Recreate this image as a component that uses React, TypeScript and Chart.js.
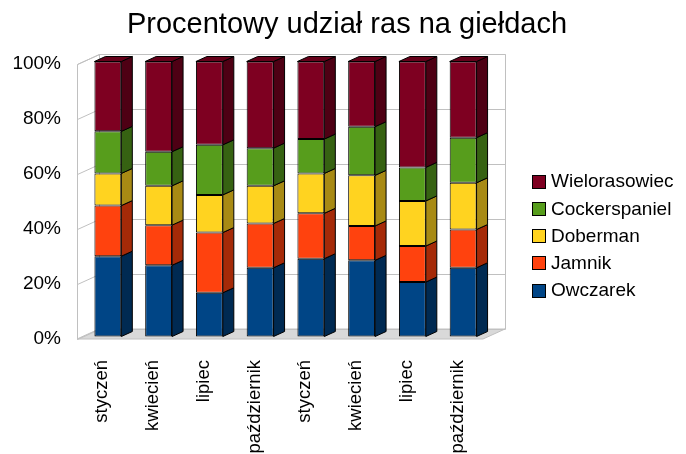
import React, { useEffect, useRef } from "react";
import { Chart, registerables } from "chart.js";

Chart.register(...registerables);

const TITLE = "Procentowy udział ras na giełdach";
const categories = ["styczeń", "kwiecień", "lipiec", "październik", "styczeń", "kwiecień", "lipiec", "październik"];
const seriesNames = ["Owczarek", "Jamnik", "Doberman", "Cockerspaniel", "Wielorasowiec"];
const owczarek = [29.2, 25.9, 15.9, 25.0, 28.3, 27.7, 19.8, 25.0];
const jamnik = [18.4, 14.6, 21.9, 16.1, 16.5, 12.5, 13.1, 13.9];
const doberman = [11.7, 14.3, 13.7, 13.7, 14.5, 18.4, 16.4, 17.0];
const cockerspaniel = [15.3, 12.4, 18.2, 13.7, 12.5, 17.7, 12.2, 16.4];
const wielorasowiec = [25.4, 32.8, 30.3, 31.5, 28.2, 23.7, 38.5, 27.7];
const yTicks = [0, 20, 40, 60, 80, 100];

const colors = ["#004586", "#ff420e", "#ffd320", "#579d1c", "#7e0021"];
const sideColors = ["#002a52", "#a52a08", "#a88a14", "#366212", "#4e0014"];
const topColors = ["#003566", "#c7330b", "#d4b01a", "#467f16", "#650019"];

const FONT = "'Liberation Sans', Arial, sans-serif";
const DX = 22, DY = -10; // wall depth
const BDX = 11, BDY = -5; // bar depth
const SX = 5.5, SY = -2.5; // bar front offset

const threeD = {
  id: "threeD",
  beforeDatasetsDraw(chart: any) {
    const ctx = chart.ctx;
    const a = chart.chartArea;
    const y = chart.scales.y;
    ctx.save();
    ctx.fillStyle = "#ffffff";
    ctx.strokeStyle = "#c0c0c0";
    ctx.lineWidth = 1;
    ctx.fillRect(a.left + DX, a.top + DY, a.right - a.left, a.bottom - a.top);
    // floor
    ctx.beginPath();
    ctx.moveTo(a.left, a.bottom);
    ctx.lineTo(a.right, a.bottom);
    ctx.lineTo(a.right + DX, a.bottom + DY);
    ctx.lineTo(a.left + DX, a.bottom + DY);
    ctx.closePath();
    ctx.fillStyle = "#d9d9d9";
    ctx.fill();
    ctx.stroke();
    // gridlines
    for (const t of yTicks) {
      const py = Math.round(y.getPixelForValue(t)) + 0.5;
      ctx.beginPath();
      ctx.moveTo(a.left + 0.5, py);
      ctx.lineTo(a.left + DX + 0.5, py + DY);
      ctx.lineTo(a.right + DX + 0.5, py + DY);
      ctx.stroke();
    }
    // wall outlines
    ctx.beginPath();
    ctx.moveTo(a.left + 0.5, Math.round(a.bottom) + 0.5);
    ctx.lineTo(a.left + 0.5, Math.round(a.top) + 0.5);
    ctx.lineTo(a.left + DX + 0.5, Math.round(a.top) + DY + 0.5);
    ctx.lineTo(a.right + DX + 0.5, Math.round(a.top) + DY + 0.5);
    ctx.lineTo(a.right + DX + 0.5, Math.round(a.bottom) + DY + 0.5);
    ctx.moveTo(a.left + DX + 0.5, Math.round(a.top) + DY + 0.5);
    ctx.lineTo(a.left + DX + 0.5, Math.round(a.bottom) + DY + 0.5);
    ctx.stroke();
    ctx.restore();
    ctx.save();
    ctx.translate(SX, SY);
  },
  afterDatasetsDraw(chart: any) {
    const ctx = chart.ctx;
    ctx.restore();
    ctx.save();
    ctx.lineWidth = 1;
    ctx.strokeStyle = "#000000";
    const n = chart.data.datasets.length;
    for (let d = 0; d < n; d++) {
      const meta = chart.getDatasetMeta(d);
      meta.data.forEach((bar: any) => {
        const p = bar.getProps(["x", "y", "base", "width"], true);
        const xr = p.x + p.width / 2 + SX;
        const xl = p.x - p.width / 2 + SX;
        const yt = p.y + SY;
        const yb = p.base + SY;
        ctx.beginPath();
        ctx.moveTo(xr, yt);
        ctx.lineTo(xr + BDX, yt + BDY);
        ctx.lineTo(xr + BDX, yb + BDY);
        ctx.lineTo(xr, yb);
        ctx.closePath();
        ctx.fillStyle = sideColors[d];
        ctx.fill();
        ctx.stroke();
        if (d === n - 1) {
          ctx.beginPath();
          ctx.moveTo(xl, yt);
          ctx.lineTo(xr, yt);
          ctx.lineTo(xr + BDX, yt + BDY);
          ctx.lineTo(xl + BDX, yt + BDY);
          ctx.closePath();
          ctx.fillStyle = topColors[d];
          ctx.fill();
          ctx.stroke();
        }
      });
    }
    ctx.restore();
  },
  afterDraw(chart: any) {
    const ctx = chart.ctx;
    ctx.save();
    ctx.fillStyle = "#000000";
    ctx.font = `29px ${FONT}`;
    ctx.textAlign = "center";
    ctx.textBaseline = "alphabetic";
    ctx.fillText(TITLE, 347, 33);
    // legend
    ctx.font = `19px ${FONT}`;
    ctx.textAlign = "left";
    ctx.textBaseline = "middle";
    const n = chart.data.datasets.length;
    for (let k = 0; k < n; k++) {
      const d = n - 1 - k;
      const cy = 181 + k * 27.3;
      ctx.fillStyle = colors[d];
      ctx.fillRect(532.5, Math.round(cy - 6.5) + 0.5, 13, 13);
      ctx.strokeStyle = "#000000";
      ctx.lineWidth = 1;
      ctx.strokeRect(532.5, Math.round(cy - 6.5) + 0.5, 13, 13);
      ctx.fillStyle = "#000000";
      ctx.fillText(chart.data.datasets[d].label, 551, cy + 1);
    }
    ctx.restore();
  },
};

export default function App() {
  const ref = useRef<HTMLCanvasElement | null>(null);
  useEffect(() => {
    if (!ref.current) return;
    const seriesData = [owczarek, jamnik, doberman, cockerspaniel, wielorasowiec];
    const chart = new Chart(ref.current, {
      type: "bar",
      data: {
        labels: categories,
        datasets: seriesNames.map((name, i) => ({
          label: name,
          data: seriesData[i],
          backgroundColor: colors[i],
          borderColor: "#000000",
          borderWidth: 1,
          borderSkipped: false,
          categoryPercentage: 1,
          barPercentage: 0.53,
          clip: false as any,
        })),
      },
      options: {
        responsive: false,
        animation: false,
        devicePixelRatio: 1,
        layout: { padding: { top: 64, right: 203, left: 0, bottom: 0 } },
        plugins: {
          legend: { display: false },
          title: { display: false },
          tooltip: { enabled: false },
        },
        scales: {
          x: {
            stacked: true,
            grid: { display: false },
            border: { display: false },
            ticks: {
              autoSkip: false,
              minRotation: 90,
              maxRotation: 90,
              padding: 13,
              color: "#000000",
              font: { family: FONT, size: 18.5 },
            },
            afterFit: (s: any) => { s.height = 115; },
          },
          y: {
            stacked: true,
            min: 0,
            max: 100,
            grid: { display: false },
            border: { display: false },
            ticks: {
              stepSize: 20,
              padding: 8,
              color: "#000000",
              font: { family: FONT, size: 19 },
              callback: (v: any) => v + "%",
            },
            afterFit: (s: any) => { s.width = 77; },
          },
        },
      },
      plugins: [threeD],
    });
    return () => chart.destroy();
  }, []);
  return (
    <div style={{ position: "fixed", left: 0, top: 0, width: 686, height: 454, background: "#fff" }}>
      <canvas ref={ref} width={686} height={454} />
    </div>
  );
}
